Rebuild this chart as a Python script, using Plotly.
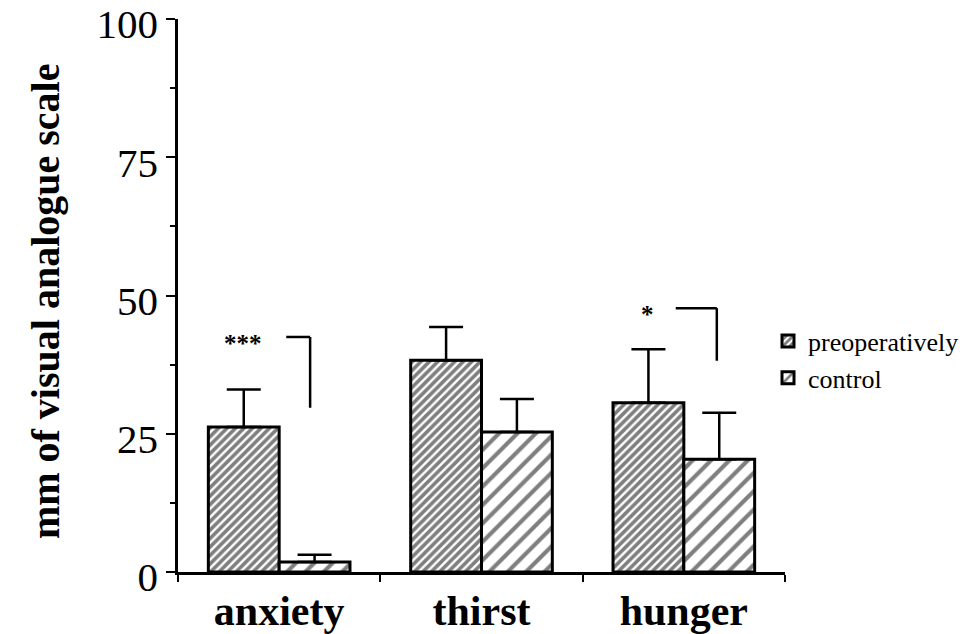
import plotly.graph_objects as go

categories = ["anxiety", "thirst", "hunger"]
preop_mean = [26.2, 38.3, 30.6]
preop_err = [6.8, 6.0, 9.7]
control_mean = [1.8, 25.3, 20.4]
control_err = [1.3, 6.0, 8.4]
y_ticks = [0, 25, 50, 75, 100]

serif = "Liberation Serif, Times New Roman, serif"

fig = go.Figure()
fig.add_trace(go.Bar(
    x=categories, y=preop_mean, name="preoperatively",
    marker=dict(color="white", line=dict(color="black", width=3),
                pattern=dict(shape="/", size=6, solidity=0.6, fgcolor="black", bgcolor="white")),
    error_y=dict(type="data", array=preop_err, arrayminus=[0]*3, symmetric=False,
                 color="black", thickness=2.5, width=17),
))
fig.add_trace(go.Bar(
    x=categories, y=control_mean, name="control",
    marker=dict(color="white", line=dict(color="black", width=3),
                pattern=dict(shape="/", size=13, solidity=0.32, fgcolor="black", bgcolor="white")),
    error_y=dict(type="data", array=control_err, arrayminus=[0]*3, symmetric=False,
                 color="black", thickness=2.5, width=17),
))

# significance brackets
brackets = [
    dict(x0=0.035, x1=0.153, ytop=42.5, ybot=29.7, label="***", lx=-0.18, ly=41.4),
    dict(x0=1.96, x1=2.163, ytop=47.7, ybot=38.2, label="*", lx=1.82, ly=46.5),
]
for b in brackets:
    fig.add_shape(type="line", xref="x", yref="y", x0=b["x0"], x1=b["x1"], y0=b["ytop"], y1=b["ytop"],
                  line=dict(color="black", width=2.5))
    fig.add_shape(type="line", xref="x", yref="y", x0=b["x1"], x1=b["x1"], y0=b["ytop"], y1=b["ybot"],
                  line=dict(color="black", width=2.5))
    fig.add_annotation(x=b["lx"], y=b["ly"], xref="x", yref="y", text="<b>" + b["label"] + "</b>",
                       showarrow=False, font=dict(family=serif, size=25, color="black"))

fig.add_annotation(x=-0.219, y=0.49, xref="paper", yref="paper", textangle=-90,
                   xanchor="center", yanchor="middle",
                   text="<b>mm of visual analogue scale</b>", showarrow=False,
                   font=dict(family=serif, size=40, color="black"))

fig.update_layout(
    width=971, height=634,
    margin=dict(l=170, r=194, t=11, b=70, autoexpand=False),
    paper_bgcolor="white", plot_bgcolor="white",
    barmode="group", bargap=0.3, bargroupgap=0,
    showlegend=True,
    legend=dict(x=0.972, y=0.46, xanchor="left", yanchor="top",
                font=dict(family=serif, size=26, color="black"),
                itemwidth=30, tracegroupgap=0, bgcolor="rgba(0,0,0,0)"),
    font=dict(family=serif, color="black"),
)
fig.update_xaxes(
    type="category", range=[-0.5, 2.5], showline=True, linecolor="black", linewidth=2.5,
    ticks="outside", tickson="boundaries", ticklen=7, tickwidth=2, tickcolor="black",
    tickfont=dict(family=serif, size=42, color="black"),
    tickvals=categories, ticktext=["<b>" + c + "</b>" for c in categories],
    showgrid=False, zeroline=False, automargin=False, ticklabeloverflow="allow",
)
fig.update_yaxes(
    range=[0, 100], tickvals=y_ticks, showline=True, linecolor="black", linewidth=2.5,
    ticks="outside", ticklen=9, tickwidth=2, tickcolor="black",
    tickfont=dict(family=serif, size=41, color="black"), ticklabelshift=5,
    minor=dict(dtick=12.5, tick0=0, ticks="outside", ticklen=5, tickwidth=1.5, tickcolor="black"),
    showgrid=False, zeroline=False, automargin=False, ticklabeloverflow="allow",
)

fig.write_html("out.html")
